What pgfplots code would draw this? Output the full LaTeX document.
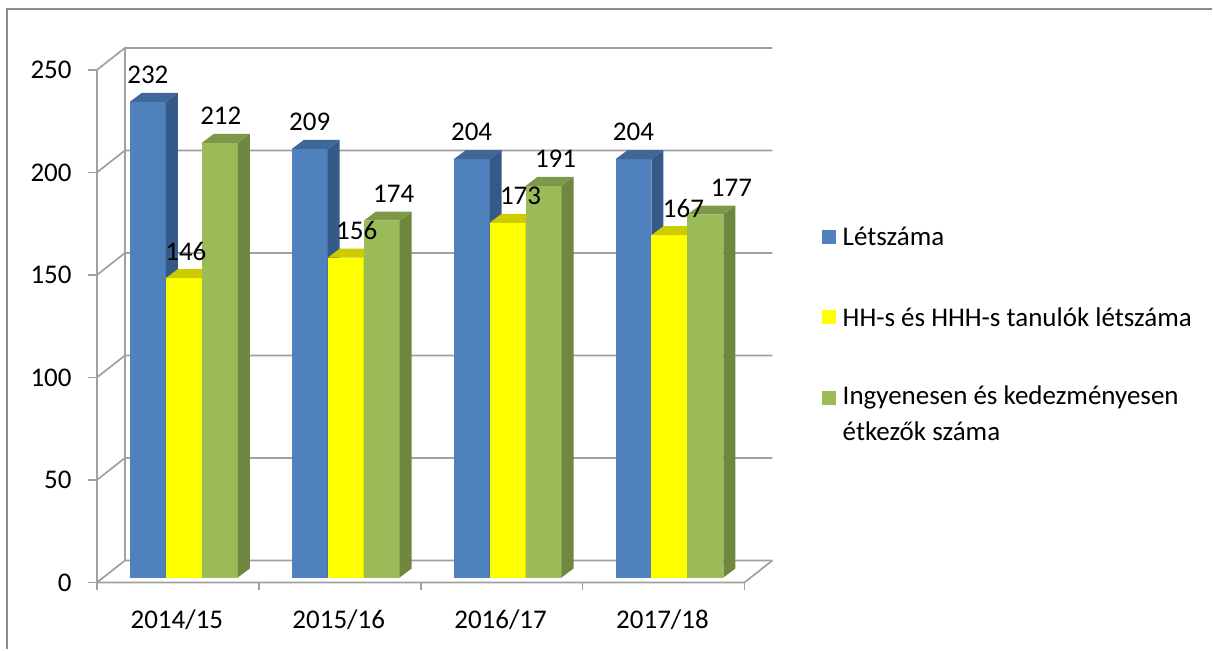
\documentclass[border=0pt]{standalone}
\usepackage{pgfplots}
\pgfplotsset{compat=1.18}
\usepackage{fontspec}
\setmainfont{Carlito}
\definecolor{bfront}{HTML}{4F81BD}
\definecolor{bside}{HTML}{365A88}
\definecolor{btop}{HTML}{3F6797}
\definecolor{yfront}{HTML}{FFFF00}
\definecolor{yside}{HTML}{B8B800}
\definecolor{ytop}{HTML}{CCCC00}
\definecolor{gfront}{HTML}{9BBB59}
\definecolor{gside}{HTML}{6F873E}
\definecolor{gtop}{HTML}{7D9849}
\definecolor{gridc}{HTML}{A0A0A0}
\definecolor{borderc}{HTML}{8C8C8C}
\tikzset{vlab/.style={font=\fontsize{13.5}{16}\selectfont, anchor=center, inner sep=0pt}}
% \threebar{x-left px}{value}{colour prefix}
\newcommand{\threebar}[3]{%
  \pgfmathsetmacro\xa{#1}%
  \pgfmathsetmacro\xb{#1+36}%
  \pgfmathsetmacro\xc{#1+48}%
  \pgfmathsetmacro\xd{#1+12}%
  \pgfmathsetmacro\bb{2.44}%
  \pgfmathsetmacro\bc{2.44+4.39}%
  \pgfmathsetmacro\tt{#2+2.44}%
  \pgfmathsetmacro\tc{#2+2.44+4.39}%
  \edef\temp{%
    \noexpand\addplot[fill=#3front, draw=none] coordinates {(\xa,\bb) (\xb,\bb) (\xb,\tt) (\xa,\tt)};
    \noexpand\addplot[fill=#3side, draw=none] coordinates {(\xb,\bb) (\xc,\bc) (\xc,\tc) (\xb,\tt)};
    \noexpand\addplot[fill=#3top, draw=none] coordinates {(\xa,\tt) (\xb,\tt) (\xc,\tc) (\xd,\tc)};
  }\temp}
% \barlabel{x-left px}{value}{label x shift px}
\newcommand{\barlabel}[3]{%
  \pgfmathsetmacro\lx{#1+18+#3}%
  \pgfmathsetmacro\ly{#2+2.44+13.2}%
  \edef\temp{\noexpand\addplot[draw=none, mark=none] coordinates {(\lx,\ly)} node[vlab, pos=0] {#2};}\temp}
\begin{document}
\begin{tikzpicture}
\begin{axis}[
  scale only axis, width=606.5pt, height=325pt,
  xmin=0, xmax=1213, ymin=-32.65, ymax=284.11,
  hide axis, clip=false,
]
% bounding box
\path (axis cs:0,-32.65) rectangle (axis cs:1213,284.11);
% outer border (top and left)
\draw[borderc, line width=1pt] (axis cs:7,-32.65) -- (axis cs:7,279.7) -- (axis cs:1213,279.7);
% gridlines, walls
\foreach \v in {0,50,100,150,200,250} {
  \edef\temp{\noexpand\draw[gridc, line width=0.85pt] (axis cs:97,\v) -- (axis cs:125,\v+10.72) -- (axis cs:773,\v+10.72);
  \noexpand\draw[gridc, line width=0.85pt] (axis cs:88,\v) -- (axis cs:97,\v);
  \noexpand\node[vlab, anchor=east] at (axis cs:72,\v) {\v};}\temp
}
\draw[gridc, line width=0.85pt] (axis cs:97,0) -- (axis cs:97,250);
\draw[gridc, line width=0.85pt] (axis cs:125,10.72) -- (axis cs:125,260.72);
\draw[gridc, line width=0.85pt] (axis cs:97,0) -- (axis cs:745,0) -- (axis cs:773,10.72);
\foreach \i in {0,1,2,3,4} {
  \edef\temp{\noexpand\draw[gridc, line width=0.85pt] (axis cs:97+162*\i,0) -- (axis cs:97+162*\i,-3.6);}\temp
}
% category labels
\node[vlab] at (axis cs:177,-18) {2014/15};
\node[vlab] at (axis cs:339,-18) {2015/16};
\node[vlab] at (axis cs:501,-18) {2016/17};
\node[vlab] at (axis cs:663,-18) {2017/18};
% bars: 2014/15
\threebar{130}{232}{b}
\threebar{166}{146}{y}
\threebar{202}{212}{g}
% 2015/16
\threebar{292}{209}{b}
\threebar{328}{156}{y}
\threebar{364}{174}{g}
% 2016/17
\threebar{454}{204}{b}
\threebar{490}{173}{y}
\threebar{526}{191}{g}
% 2017/18
\threebar{616}{204}{b}
\threebar{652}{167}{y}
\threebar{688}{177}{g}
% value labels (on top of all bars)
\barlabel{130}{232}{0}
\barlabel{166}{146}{2}
\barlabel{202}{212}{1}
\barlabel{292}{209}{0}
\barlabel{328}{156}{11}
\barlabel{364}{174}{12}
\barlabel{454}{204}{0}
\barlabel{490}{173}{13}
\barlabel{526}{191}{12}
\barlabel{616}{204}{0}
\barlabel{652}{167}{14}
\barlabel{688}{177}{26}
% legend
\fill[bfront] (axis cs:823,165.2) rectangle (axis cs:837,172.0);
\fill[yfront] (axis cs:823,126.2) rectangle (axis cs:837,133.0);
\fill[gfront] (axis cs:823,86.8) rectangle (axis cs:837,93.6);
\node[vlab, anchor=west] at (axis cs:843,168.6) {Létszáma};
\node[vlab, anchor=west] at (axis cs:843,129.6) {HH-s és HHH-s tanulók létszáma};
\node[vlab, anchor=west] at (axis cs:843,90.2) {Ingyenesen és kedezményesen};
\node[vlab, anchor=west] at (axis cs:843,73.6) {étkezők száma};
\end{axis}
\end{tikzpicture}
\end{document}
